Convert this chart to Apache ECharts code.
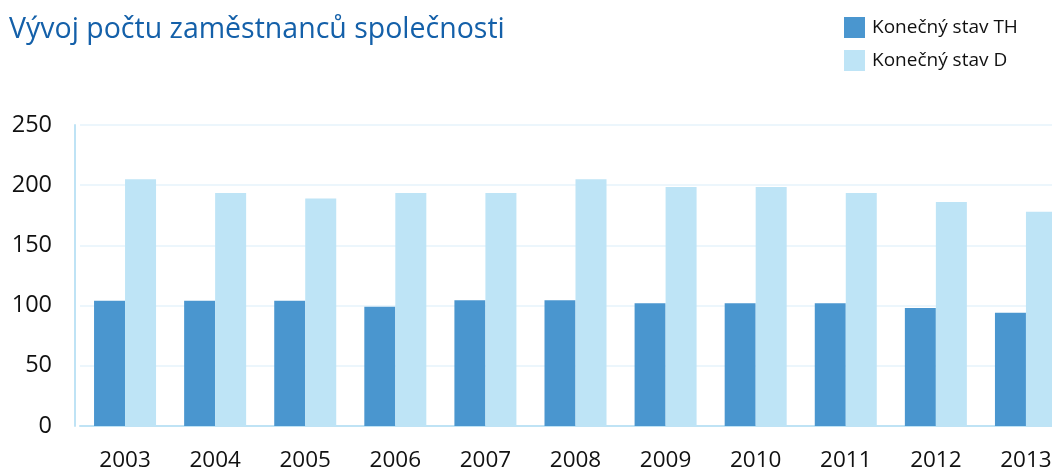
<!DOCTYPE html>
<html>
<head>
<meta charset="utf-8">
<script src="https://cdn.jsdelivr.net/npm/echarts@6/dist/echarts.min.js"></script>
<style>
  html, body { margin: 0; padding: 0; background: #fff; overflow: hidden; }
  /* wider than the window: the last bar is cut off at the right edge */
  #container { width: 1071px; height: 472px; }
</style>
</head>
<body>
<div id="container"></div>
<script>
var years = ['2003', '2004', '2005', '2006', '2007', '2008', '2009', '2010', '2011', '2012', '2013'];
var stavTH = [104, 104, 104, 99, 104.5, 104.5, 102, 102, 102, 98, 94];
var stavD = [205, 193.5, 189, 193.5, 193.5, 205, 198.5, 198.5, 193.5, 186, 178];
var seriesNames = ['Konečný stav TH', 'Konečný stav D'];
var colors = ['#4a96cf', '#bee4f6'];

var dom = document.getElementById('container');
var myChart = echarts.init(dom);
var font = '"Open Sans", "Noto Sans", sans-serif';

var option = {
    color: colors,
    animation: false,
    title: {
        text: 'Vývoj počtu zaměstnanců společnosti',
        left: 4,
        top: 10,
        textStyle: {
            color: '#1460a9',
            fontFamily: font,
            fontSize: 28.5,
            fontWeight: 'normal'
        }
    },
    legend: {
        orient: 'vertical',
        left: 839,
        top: 12,
        itemWidth: 21,
        itemHeight: 21,
        itemGap: 12,
        icon: 'rect',
        textStyle: {
            color: '#111',
            fontFamily: font,
            fontSize: 19,
            padding: [0, 0, 0, 2]
        },
        data: seriesNames
    },
    grid: {
        left: 80,
        top: 125,
        right: 0,
        bottom: 46
    },
    xAxis: {
        type: 'category',
        data: years,
        axisLine: { lineStyle: { color: '#bfe3f5', width: 2 } },
        axisTick: { show: false },
        axisLabel: {
            color: '#111',
            fontFamily: font,
            fontSize: 22.5,
            margin: 23
        }
    },
    yAxis: {
        type: 'value',
        min: 0,
        max: 250,
        interval: 50,
        offset: 5,
        axisLine: { show: true, lineStyle: { color: '#bfe3f5', width: 2 } },
        axisTick: { show: false },
        axisLabel: {
            color: '#111',
            fontFamily: font,
            fontSize: 23.5,
            margin: 23
        },
        splitLine: { lineStyle: { color: '#ecf6fc', width: 2 } }
    },
    series: [{
        name: seriesNames[0],
        type: 'bar',
        barWidth: 31,
        barGap: '0%',
        data: stavTH
    }, {
        name: seriesNames[1],
        type: 'bar',
        barWidth: 31,
        barGap: '0%',
        data: stavD
    }]
};
myChart.setOption(option, true);
</script>
</body>
</html>
